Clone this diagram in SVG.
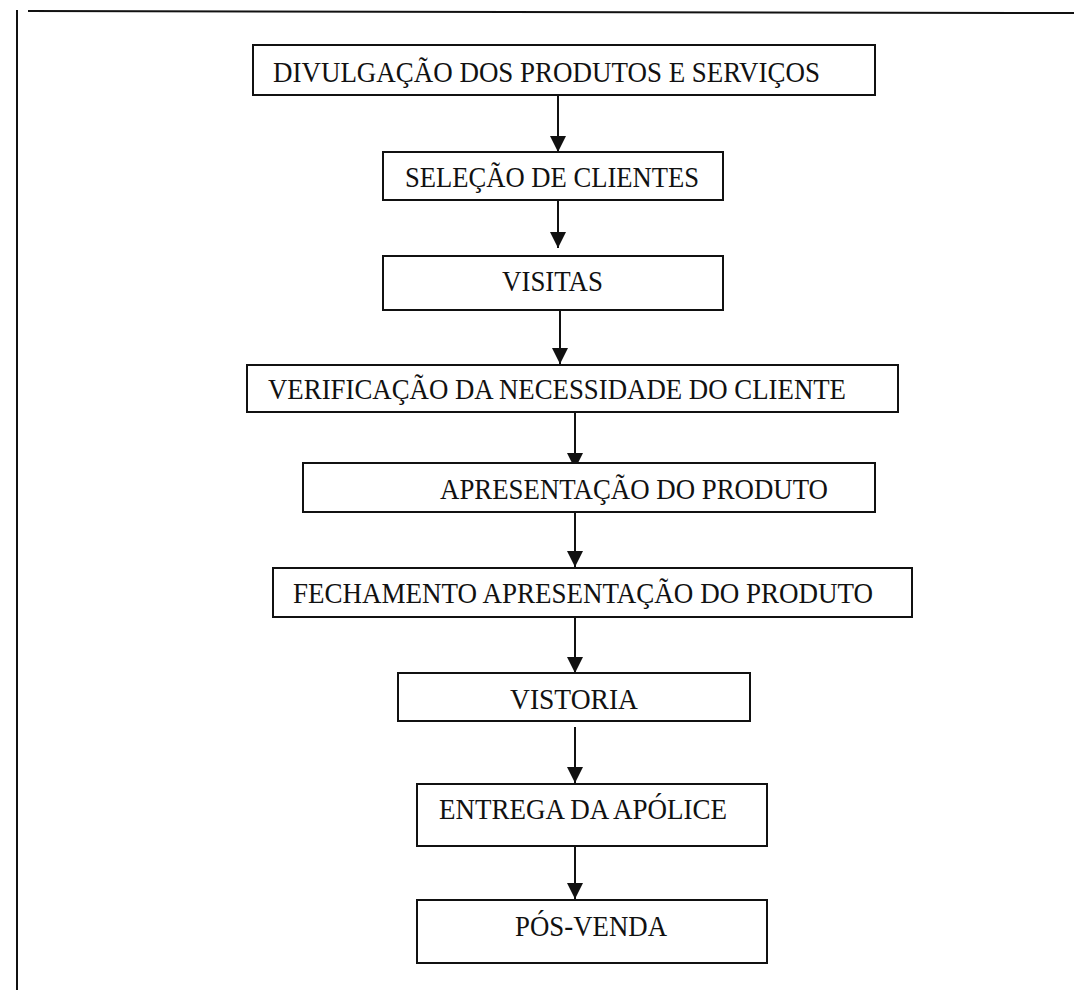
<svg xmlns="http://www.w3.org/2000/svg" width="1074" height="990" viewBox="0 0 1074 990">
  <style>
    .box { fill: #ffffff; stroke: #111111; stroke-width: 2; }
    .lbl { font-family: "Liberation Serif", "Times New Roman", serif; font-size: 30px; fill: #111111; }
    .conn { stroke: #111111; stroke-width: 2; fill: none; }
    .frame { stroke: #111111; stroke-width: 2; fill: none; }
  </style>
  <defs>
    <marker id="arrow" viewBox="0 0 16 16" refX="16" refY="8" markerWidth="16" markerHeight="16" markerUnits="userSpaceOnUse" orient="auto">
      <path d="M0,0 L16,8 L0,16 Z" fill="#111111"/>
    </marker>
  </defs>
  <rect x="0" y="0" width="1074" height="990" fill="#ffffff"/>
  <g id="frame">
    <line class="frame" x1="17" y1="10" x2="17" y2="990"/>
    <line class="frame" x1="28" y1="11" x2="1074" y2="13"/>
  </g>
  <g id="connectors">
    <line class="conn" x1="558" y1="95" x2="558" y2="152" marker-end="url(#arrow)"/>
    <line class="conn" x1="558" y1="200" x2="558" y2="248" marker-end="url(#arrow)"/>
    <line class="conn" x1="560" y1="311" x2="560" y2="364" marker-end="url(#arrow)"/>
    <line class="conn" x1="575" y1="413" x2="575" y2="469" marker-end="url(#arrow)"/>
    <line class="conn" x1="575" y1="513" x2="575" y2="567" marker-end="url(#arrow)"/>
    <line class="conn" x1="575" y1="618" x2="575" y2="673" marker-end="url(#arrow)"/>
    <line class="conn" x1="575" y1="727" x2="575" y2="783" marker-end="url(#arrow)"/>
    <line class="conn" x1="575" y1="847" x2="575" y2="899" marker-end="url(#arrow)"/>
  </g>
  <g id="n1">
    <rect class="box" x="253" y="45" width="622" height="50"/>
    <text class="lbl" x="273" y="82" textLength="547" lengthAdjust="spacingAndGlyphs">DIVULGAÇÃO DOS PRODUTOS E SERVIÇOS</text>
  </g>
  <g id="n2">
    <rect class="box" x="383" y="152" width="340" height="48"/>
    <text class="lbl" x="405" y="187" textLength="294" lengthAdjust="spacingAndGlyphs">SELEÇÃO DE CLIENTES</text>
  </g>
  <g id="n3">
    <rect class="box" x="383" y="256" width="340" height="54"/>
    <text class="lbl" x="502" y="291" textLength="101" lengthAdjust="spacingAndGlyphs">VISITAS</text>
  </g>
  <g id="n4">
    <rect class="box" x="247" y="365" width="651" height="47"/>
    <text class="lbl" x="268" y="399" textLength="578" lengthAdjust="spacingAndGlyphs">VERIFICAÇÃO DA NECESSIDADE DO CLIENTE</text>
  </g>
  <g id="n5">
    <rect class="box" x="303" y="463" width="572" height="49"/>
    <text class="lbl" x="440" y="499" textLength="388" lengthAdjust="spacingAndGlyphs">APRESENTAÇÃO DO PRODUTO</text>
  </g>
  <g id="n6">
    <rect class="box" x="273" y="568" width="639" height="49"/>
    <text class="lbl" x="293" y="603" textLength="580" lengthAdjust="spacingAndGlyphs">FECHAMENTO APRESENTAÇÃO DO PRODUTO</text>
  </g>
  <g id="n7">
    <rect class="box" x="398" y="673" width="352" height="48"/>
    <text class="lbl" x="510" y="709" textLength="128" lengthAdjust="spacingAndGlyphs">VISTORIA</text>
  </g>
  <g id="n8">
    <rect class="box" x="417" y="784" width="350" height="62"/>
    <text class="lbl" x="439" y="819" textLength="288" lengthAdjust="spacingAndGlyphs">ENTREGA DA APÓLICE</text>
  </g>
  <g id="n9">
    <rect class="box" x="417" y="900" width="350" height="63"/>
    <text class="lbl" x="515" y="936" textLength="152" lengthAdjust="spacingAndGlyphs">PÓS-VENDA</text>
  </g>
</svg>
